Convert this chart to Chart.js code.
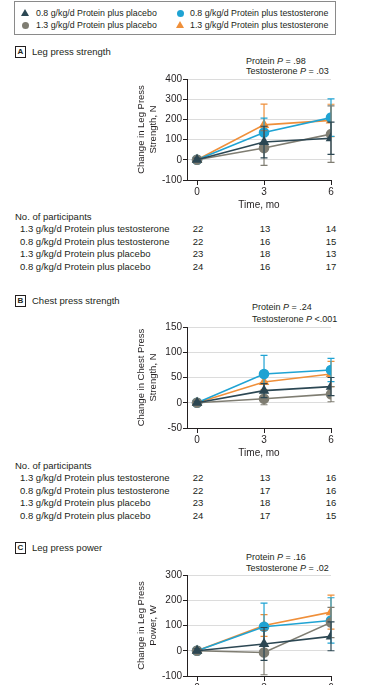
<!DOCTYPE html>
<html lang="en">
<head>
<meta charset="UTF-8" />
<title>Protein and testosterone: strength and power</title>
<script src="https://cdn.jsdelivr.net/npm/chart.js"></script>
<style>
  body { margin: 0; width: 373px; height: 685px; overflow: hidden; background: #fff; font-family: "Liberation Sans", Arial, sans-serif; color: #231f20; position: relative; }
  .t { position: absolute; font-size: 9.5px; line-height: 12px; white-space: nowrap; }
  .lg { font-size: 8.8px; }
  .pv { font-size: 9px; }
  .legend { position: absolute; left: 14px; top: 1px; width: 320px; height: 32px; border: 1px solid #8a8a8a; }
  .tri { position: absolute; width: 0; height: 0; border-left: 4px solid transparent; border-right: 4px solid transparent; border-bottom: 7px solid; }
  .dot { position: absolute; width: 7px; height: 7px; border-radius: 50%; }
  .tag { position: absolute; width: 9px; height: 10px; border: 1px solid #231f20; font-weight: bold; font-size: 8px; text-align: center; line-height: 10px; }
  canvas { position: absolute; }
</style>
</head>
<body>
  <div class="legend"></div>
  <div id="legendItems"></div>

  <div class="tag" style="left:15px; top:46px;">A</div>
  <div class="t" style="left:32px; top:46px;">Leg press strength</div>
  <div class="t pv" style="left:246px; top:55px;">Protein <i>P</i> = .98</div>
  <div class="t pv" style="left:246px; top:65px;">Testosterone <i>P</i> = .03</div>
  <canvas id="legStrengthChart" width="211" height="141" style="left:134px; top:70px;"></canvas>
  <div id="legStrengthTable"></div>

  <div class="tag" style="left:15px; top:295px;">B</div>
  <div class="t" style="left:32px; top:295px;">Chest press strength</div>
  <div class="t pv" style="left:252px; top:301px;">Protein <i>P</i> = .24</div>
  <div class="t pv" style="left:252px; top:313px;">Testosterone <i>P</i> &lt;.001</div>
  <canvas id="chestStrengthChart" width="211" height="141" style="left:134px; top:318px;"></canvas>
  <div id="chestStrengthTable"></div>

  <div class="tag" style="left:15px; top:542px;">C</div>
  <div class="t" style="left:32px; top:542px;">Leg press power</div>
  <div class="t pv" style="left:246px; top:551px;">Protein <i>P</i> = .16</div>
  <div class="t pv" style="left:246px; top:562px;">Testosterone <i>P</i> = .02</div>
  <canvas id="legPowerChart" width="211" height="141" style="left:134px; top:566px;"></canvas>

  <script>
    const months = [0, 3, 6];
    const groups = [
      '0.8 g/kg/d Protein plus placebo',
      '1.3 g/kg/d Protein plus placebo',
      '0.8 g/kg/d Protein plus testosterone',
      '1.3 g/kg/d Protein plus testosterone'
    ];
    const colors = ['#2c4753', '#7f7d72', '#1fa3d3', '#ef8f3a'];
    const shapes = ['triangle', 'circle', 'circle', 'triangle'];

    // mean change and error, one row per group (same order as groups)
    const legStrength = [[0, 88, 107], [0, 58, 127], [0, 135, 209], [0, 173, 195]];
    const legStrengthErr = [[8, 78, 80], [8, 86, 140], [8, 71, 93], [8, 103, 80]];
    const chestStrength = [[0, 24, 32], [0, 8, 17], [0, 57, 65], [0, 41, 57]];
    const chestStrengthErr = [[3, 14, 18], [3, 12, 15], [3, 37, 23], [3, 15, 25]];
    const legPower = [[0, 27, 57], [0, -7, 112], [0, 95, 120], [0, 100, 153]];
    const legPowerErr = [[8, 65, 57], [8, 88, 60], [8, 94, 90], [8, 43, 67]];

    // participant counts, table row order
    const tableRows = [
      '1.3 g/kg/d Protein plus testosterone',
      '0.8 g/kg/d Protein plus testosterone',
      '1.3 g/kg/d Protein plus placebo',
      '0.8 g/kg/d Protein plus placebo'
    ];
    const legStrengthN = [[22, 13, 14], [22, 16, 15], [23, 18, 13], [24, 16, 17]];
    const chestStrengthN = [[22, 13, 16], [22, 17, 16], [23, 18, 16], [24, 17, 15]];

    const ink = '#231f20';
    Chart.defaults.font.family = '"Liberation Sans", Arial, sans-serif';

    // legend box
    const legendPos = [[25, 36, 13], [25, 36, 25], [180, 190, 13], [180, 190, 25]];
    let html = '';
    groups.forEach((g, i) => {
      const [mx, tx, cy] = legendPos[i];
      if (shapes[i] === 'triangle') {
        html += `<span class="tri" style="left:${mx - 4}px; top:${cy - 4}px; border-bottom-color:${colors[i]}"></span>`;
      } else {
        html += `<span class="dot" style="left:${mx - 3.5}px; top:${cy - 3.5}px; background:${colors[i]}"></span>`;
      }
      html += `<div class="t lg" style="left:${tx}px; top:${cy - 6}px;">${g}</div>`;
    });
    document.getElementById('legendItems').innerHTML = html;

    function drawTable(id, top, counts) {
      const colX = [198, 265, 331];
      let out = `<div class="t" style="left:15px; top:${top}px;">No. of participants</div>`;
      tableRows.forEach((r, i) => {
        const y = top + 12.4 * (i + 1);
        out += `<div class="t" style="left:20px; top:${y}px;">${r}</div>`;
        counts[i].forEach((n, j) => {
          out += `<div class="t" style="left:${colX[j] - 10}px; width:20px; text-align:center; top:${y}px;">${n}</div>`;
        });
      });
      document.getElementById(id).innerHTML = out;
    }
    drawTable('legStrengthTable', 211, legStrengthN);
    drawTable('chestStrengthTable', 460, chestStrengthN);

    const errorBars = {
      id: 'errorBars',
      afterDatasetDraw(chart, args) {
        const ds = chart.data.datasets[args.index];
        const y = chart.scales.y;
        const ctx = chart.ctx;
        ctx.save();
        ctx.strokeStyle = ds.borderColor;
        ctx.lineWidth = 1.2;
        args.meta.data.forEach((pt, j) => {
          const v = ds.data[j].y, e = ds.err[j];
          const top = y.getPixelForValue(v + e), bot = y.getPixelForValue(v - e);
          ctx.beginPath();
          ctx.moveTo(pt.x, top); ctx.lineTo(pt.x, bot);
          ctx.moveTo(pt.x - 3.5, top); ctx.lineTo(pt.x + 3.5, top);
          ctx.moveTo(pt.x - 3.5, bot); ctx.lineTo(pt.x + 3.5, bot);
          ctx.stroke();
        });
        ctx.restore();
      }
    };

    function drawPanel(id, values, errs, yMin, yMax, yStep, yTitle) {
      new Chart(document.getElementById(id), {
        type: 'line',
        data: {
          datasets: groups.map((g, i) => ({
            label: g,
            data: months.map((m, j) => ({ x: m, y: values[i][j] })),
            err: errs[i],
            borderColor: colors[i],
            backgroundColor: colors[i],
            pointBackgroundColor: colors[i],
            pointStyle: shapes[i],
            pointRadius: 4.5,
            borderWidth: 1.6,
            tension: 0
          }))
        },
        options: {
          responsive: false,
          animation: false,
          events: [],
          layout: { padding: { top: 9, right: 14, bottom: 0, left: 0 } },
          plugins: { legend: { display: false }, tooltip: { enabled: false } },
          scales: {
            x: {
              type: 'linear', min: -0.45, max: 6,
              afterBuildTicks: s => { s.ticks = months.map(v => ({ value: v })); },
              afterFit: s => { s.height = 31; },
              grid: { drawOnChartArea: false, tickLength: 5, color: ink },
              border: { color: ink },
              ticks: { padding: 1, color: ink, font: { size: 10 } },
              title: { display: true, text: 'Time, mo', padding: 0, color: ink, font: { size: 10, lineHeight: 1.1 } }
            },
            y: {
              min: yMin, max: yMax,
              afterFit: s => { s.width = 53; },
              grid: { color: '#dcdcdc', tickColor: ink, tickLength: 4 },
              border: { color: ink },
              ticks: { stepSize: yStep, padding: 1, color: ink, font: { size: 10 } },
              title: { display: true, text: yTitle, padding: { top: 2, bottom: 0 }, color: ink, font: { size: 9.5, lineHeight: 1.2 } }
            }
          }
        },
        plugins: [errorBars]
      });
    }

    drawPanel('legStrengthChart', legStrength, legStrengthErr, -100, 400, 100, ['Change in Leg Press', 'Strength, N']);
    drawPanel('chestStrengthChart', chestStrength, chestStrengthErr, -50, 150, 50, ['Change in Chest Press', 'Strength, N']);
    drawPanel('legPowerChart', legPower, legPowerErr, -100, 300, 100, ['Change in Leg Press', 'Power, W']);
  </script>
</body>
</html>
